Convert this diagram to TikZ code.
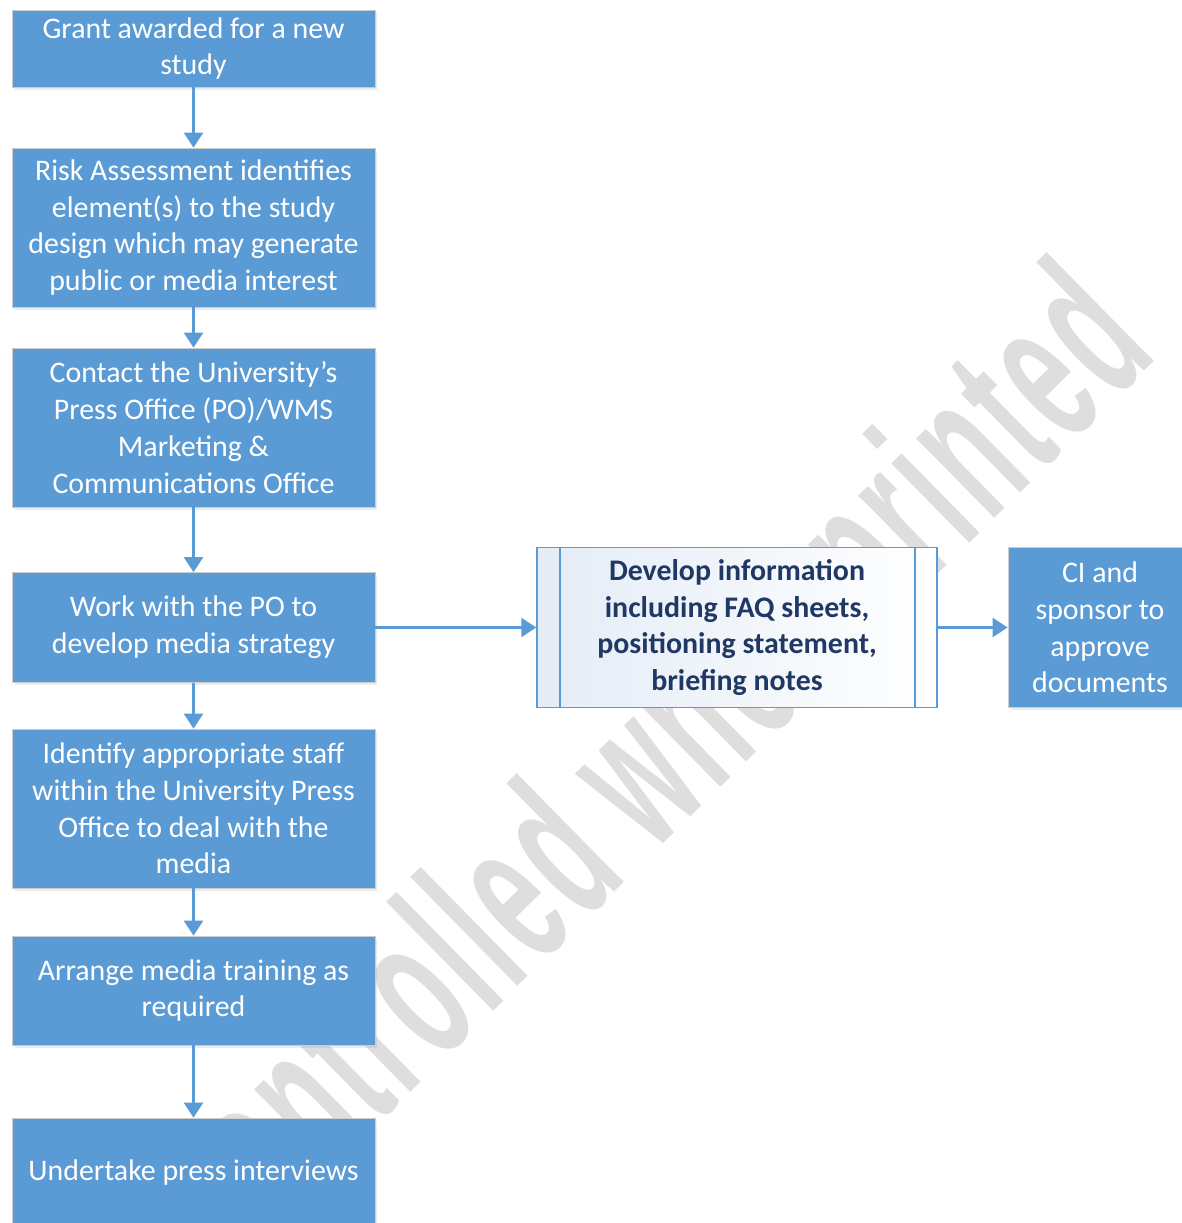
\documentclass[tikz,border=0pt]{standalone}
\usepackage{fontspec}
\setmainfont{Carlito}
\newfontfamily\markfont[LetterSpace=5]{Liberation Sans}
\usetikzlibrary{arrows.meta,shadows}
\definecolor{boxblue}{HTML}{5B9BD5}
\definecolor{navytext}{HTML}{1F3864}
\definecolor{paleblue}{HTML}{E4ECF6}
\tikzset{
  stepbox/.style  = {draw=black!20,line width=0.4pt,fill=boxblue,text=white,
                     minimum width=7.26cm,inner sep=0pt,align=center,
                     font=\fontsize{17}{20.9}\selectfont,
                     drop shadow={opacity=0.15,shadow xshift=0.05cm,shadow yshift=-0.06cm}},
  procbox/.style  = {draw=boxblue,line width=0.9pt,left color=paleblue,right color=white,
                     text=navytext,minimum width=8cm,minimum height=3.2cm,inner sep=0pt,
                     align=center,font=\bfseries\fontsize{17}{20.9}\selectfont,
                     path picture={
                       \draw[boxblue,line width=0.9pt]
                         ([xshift=0.46cm]path picture bounding box.north west) --
                         ([xshift=0.46cm]path picture bounding box.south west)
                         ([xshift=-0.44cm]path picture bounding box.north east) --
                         ([xshift=-0.44cm]path picture bounding box.south east);}},
  flowarr/.style  = {-{Triangle[length=0.3cm,width=0.38cm]},boxblue,line width=1.3pt},
  watermark/.style = {text=black!13,inner sep=0pt,rotate=44.5,xscale=0.5,
                      font=\markfont\bfseries\fontsize{120}{120}\selectfont}
}

\begin{document}
\begin{tikzpicture}[x=0.02cm,y=-0.02cm]
  \useasboundingbox (0,0) rectangle (1182,1223);
  \node[watermark,anchor=base west] (mark) at (124,1374) {Uncontrolled when printed};
  % main column
  \node[stepbox,minimum height=1.54cm] (grant)  at (193.5,48.5)  {Grant awarded for a new\\study};
  \node[stepbox,minimum height=3.18cm] (risk)   at (193.5,227.5) {Risk Assessment identifies\\element(s) to the study\\design which may generate\\public or media interest};
  \node[stepbox,minimum height=3.18cm] (press)  at (193.5,427.5) {Contact the University’s\\Press Office (PO)/WMS\\Marketing \&\\Communications Office};
  \node[stepbox,minimum height=2.2cm]  (work)   at (193.5,627.5) {Work with the PO to\\develop media strategy};
  \node[stepbox,minimum height=3.18cm] (staff)  at (193.5,808.5) {Identify appropriate staff\\within the University Press\\Office to deal with the\\media};
  \node[stepbox,minimum height=2.18cm] (train)  at (193.5,990.5) {Arrange media training as\\required};
  \node[stepbox,minimum height=2.2cm]  (interv) at (193.5,1173)  {Undertake press interviews};
  % side branch
  \node[procbox] (develop) at (737,627.5) {Develop information\\including FAQ sheets,\\positioning statement,\\briefing notes};
  \node[stepbox,minimum width=3.68cm,minimum height=3.2cm] (approve) at (1100,627.5) {CI and\\sponsor to\\approve\\documents};

  \draw[flowarr] (grant) -- (risk);
  \draw[flowarr] (risk) -- (press);
  \draw[flowarr] (press) -- (work);
  \draw[flowarr] (work) -- (staff);
  \draw[flowarr] (staff) -- (train);
  \draw[flowarr] (train) -- (interv);
  \draw[flowarr] (work) -- (develop);
  \draw[flowarr] (develop) -- (approve);
\end{tikzpicture}
\end{document}
